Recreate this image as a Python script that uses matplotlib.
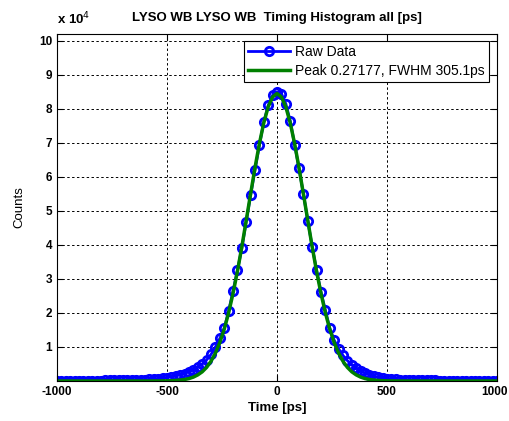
import matplotlib.pyplot as plt
import matplotlib.transforms as mtransforms
import numpy as np

plt.rcParams['font.family'] = ['Liberation Sans', 'DejaVu Sans']
plt.rcParams['axes.unicode_minus'] = False

# время, пс (шаг 20 пс)
time_ps = np.arange(-1000, 1001, 20)

# сырые данные гистограммы, x 10^4 отсчётов
raw_counts = [
    0.010, 0.012, 0.009, 0.011, 0.010, 0.012, 0.011, 0.013, 0.012, 0.014,
    0.013, 0.015, 0.016, 0.018, 0.020, 0.022, 0.025, 0.028, 0.030, 0.034,
    0.040, 0.045, 0.055, 0.065, 0.080,
    0.10, 0.12, 0.15, 0.18, 0.22, 0.27, 0.33, 0.41, 0.50, 0.62,
    0.78, 1.00, 1.25, 1.55, 2.05, 2.65, 3.25, 3.90, 4.68, 5.46,
    6.20, 6.93, 7.62, 8.10, 8.40, 8.50,
    8.45, 8.15, 7.65, 6.95, 6.25, 5.50, 4.70, 3.95, 3.25, 2.62,
    2.08, 1.55, 1.20, 0.95, 0.75, 0.60, 0.48, 0.38, 0.30, 0.23,
    0.18, 0.14, 0.11, 0.09, 0.07, 0.06, 0.05, 0.042, 0.036, 0.030,
    0.026, 0.022, 0.020, 0.018, 0.016, 0.015, 0.014, 0.013, 0.012, 0.012,
    0.011, 0.012, 0.010, 0.011, 0.010, 0.011, 0.010, 0.010, 0.009, 0.010,
]

# аппроксимация пиком, x 10^4 отсчётов
fit_counts = [
    0, 0, 0, 0, 0, 0, 0, 0, 0, 0,
    0, 0, 0, 0, 0, 0, 0, 0, 0, 0,
    0, 0, 0.0008, 0.0015, 0.003,
    0.005, 0.009, 0.016, 0.027, 0.044, 0.072, 0.115, 0.18, 0.27, 0.40,
    0.58, 0.82, 1.13, 1.52, 2.00, 2.57, 3.22, 3.94, 4.72, 5.50,
    6.27, 6.98, 7.59, 8.06, 8.35, 8.45,
    8.35, 8.06, 7.59, 6.98, 6.27, 5.50, 4.72, 3.94, 3.22, 2.57,
    2.00, 1.52, 1.13, 0.82, 0.58, 0.40, 0.27, 0.18, 0.115, 0.072,
    0.044, 0.027, 0.016, 0.009, 0.005, 0.003, 0.0015, 0.0008, 0, 0,
    0, 0, 0, 0, 0, 0, 0, 0, 0, 0,
    0, 0, 0, 0, 0, 0, 0, 0, 0, 0,
]

x_ticks = [-1000, -500, 0, 500, 1000]
y_ticks = [1, 2, 3, 4, 5, 6, 7, 8, 9, 10]

fig = plt.figure(figsize=(5.1, 4.21), dpi=100)
ax = fig.add_axes([57 / 510, 40 / 421, 440 / 510, 347 / 421])

ax.plot(time_ps, raw_counts, 'o-', color='#0000ff', linewidth=2,
        markersize=6, markeredgewidth=2, markerfacecolor='none',
        label='Raw Data')
ax.plot(time_ps, fit_counts, '-', color='#008000', linewidth=2.5,
        label='Peak 0.27177, FWHM 305.1ps')

ax.set_xlim(-1000, 1000)
ax.set_ylim(0, 10.2)
ax.set_xticks(x_ticks)
ax.set_yticks(y_ticks)
ax.tick_params(direction='in', top=True, right=True, length=4,
               labelsize=8.5)
for lbl in ax.get_xticklabels() + ax.get_yticklabels():
    lbl.set_fontweight('bold')
# последнюю подпись чуть левее, чтобы не обрезалась краем
last = ax.get_xticklabels()[-1]
last.set_transform(last.get_transform() +
                   mtransforms.ScaledTranslation(-3 / 100, 0,
                                                 fig.dpi_scale_trans))
ax.grid(True, color='black', linestyle=(0, (2.5, 2.5)), linewidth=0.7)

ax.set_title('LYSO WB LYSO WB  Timing Histogram all [ps]',
             fontsize=9.5, fontweight='bold', pad=9)
ax.set_xlabel('Time [ps]', fontsize=9.5, fontweight='bold', labelpad=3)
ax.set_ylabel('Counts', fontsize=9.5, labelpad=10)
ax.text(0, 1.02, 'x 10$^4$', transform=ax.transAxes, fontsize=9.5,
        fontweight='bold', va='bottom', ha='left')

leg = ax.legend(loc='upper right', bbox_to_anchor=(0.982, 0.98),
                fontsize=10, numpoints=1, handlelength=3.0,
                handletextpad=0.4, fancybox=False, framealpha=1,
                edgecolor='black', borderaxespad=0, borderpad=0.3,
                labelspacing=0.35)
leg.get_frame().set_linewidth(0.8)

plt.savefig('out.png', dpi=100)
